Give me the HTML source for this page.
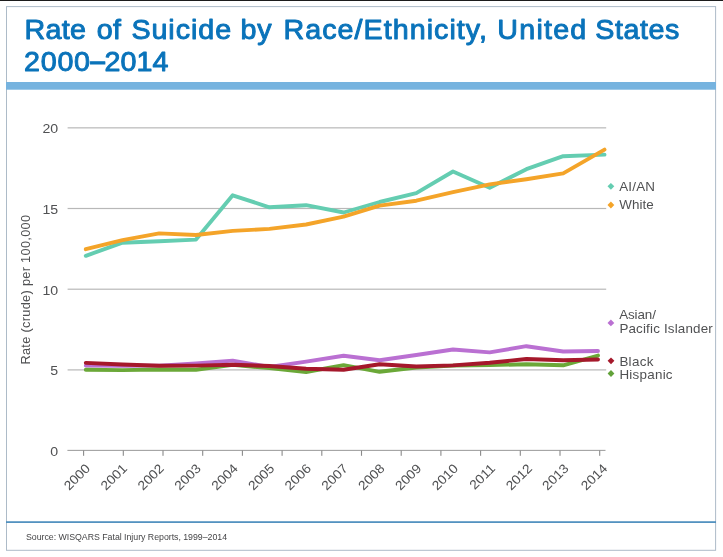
<!DOCTYPE html>
<html><head><meta charset="utf-8"><title>Rate of Suicide by Race/Ethnicity, United States 2000–2014</title>
<style>
html,body{margin:0;padding:0;background:#fff;}
svg{display:block;will-change:transform;}
text{font-family:"Liberation Sans",Arial,Helvetica,sans-serif;}
.t{font-size:28.4px;fill:#0a73ba;stroke:#0a73ba;stroke-width:0.95px;stroke-linejoin:round;}
.g{fill:#505153;}
.ln{fill:none;stroke-linejoin:round;stroke-linecap:round;}
</style></head><body>
<svg width="723" height="557" viewBox="0 0 723 557">
<rect x="0" y="0" width="723" height="557" fill="#ffffff"/>
<rect x="0" y="0" width="723" height="1" fill="#1c1c1c"/>
<rect x="6.5" y="6.6" width="709.1" height="543.7" fill="none" stroke="#adbbc8" stroke-width="1"/>
<rect x="6" y="82.0" width="710" height="7.7" fill="#76b3df"/>
<rect x="6" y="521.25" width="710" height="1.7" fill="#4b8dbd"/>

<text class="t" transform="translate(24.6,39.2) scale(1.01,1)" letter-spacing="0.28">Rate</text>
<text class="t" transform="translate(96.8,39.2) scale(1.01,1)" letter-spacing="0.28">of</text>
<text class="t" transform="translate(131.4,39.2) scale(1.01,1)" letter-spacing="0.93">Suicide</text>
<text class="t" transform="translate(240.6,39.2) scale(1.01,1)" letter-spacing="0.78">by</text>
<text class="t" transform="translate(283.4,39.2) scale(1.01,1)" letter-spacing="1.03">Race/Ethnicity,</text>
<text class="t" transform="translate(497.3,39.2) scale(1.01,1)" letter-spacing="1.21">United</text>
<text class="t" transform="translate(595.2,39.2) scale(1.01,1)" letter-spacing="0.58">States</text>
<text class="t" transform="translate(24.0,70.5) scale(1.01,1)" letter-spacing="0.75">2000</text>
<text class="t" transform="translate(90.3,70.5) scale(0.93,1.12)">–</text>
<text class="t" transform="translate(104.6,70.5) scale(1.01,1)" letter-spacing="0.05">2014</text>
<rect x="67.6" y="127.25" width="538.6" height="1.2" fill="#b8b8b8"/>
<rect x="67.6" y="207.90" width="538.6" height="1.2" fill="#b8b8b8"/>
<rect x="67.6" y="288.60" width="538.6" height="1.2" fill="#b8b8b8"/>
<rect x="67.6" y="369.30" width="538.6" height="1.2" fill="#b8b8b8"/>
<rect x="67.4" y="449.85" width="538.1" height="1.1" fill="#a2a2a2"/>
<rect x="83.05" y="450.4" width="1.1" height="5.4" fill="#8a8a8a"/>
<rect x="122.75" y="450.4" width="1.1" height="5.4" fill="#8a8a8a"/>
<rect x="162.45" y="450.4" width="1.1" height="5.4" fill="#8a8a8a"/>
<rect x="202.15" y="450.4" width="1.1" height="5.4" fill="#8a8a8a"/>
<rect x="241.85" y="450.4" width="1.1" height="5.4" fill="#8a8a8a"/>
<rect x="281.55" y="450.4" width="1.1" height="5.4" fill="#8a8a8a"/>
<rect x="321.25" y="450.4" width="1.1" height="5.4" fill="#8a8a8a"/>
<rect x="360.95" y="450.4" width="1.1" height="5.4" fill="#8a8a8a"/>
<rect x="400.65" y="450.4" width="1.1" height="5.4" fill="#8a8a8a"/>
<rect x="440.35" y="450.4" width="1.1" height="5.4" fill="#8a8a8a"/>
<rect x="480.05" y="450.4" width="1.1" height="5.4" fill="#8a8a8a"/>
<rect x="519.75" y="450.4" width="1.1" height="5.4" fill="#8a8a8a"/>
<rect x="559.45" y="450.4" width="1.1" height="5.4" fill="#8a8a8a"/>
<rect x="599.15" y="450.4" width="1.1" height="5.4" fill="#8a8a8a"/>
<text class="g" font-size="13" text-anchor="end" transform="translate(58.2,133.3) scale(1.09,1)">20</text>
<text class="g" font-size="13" text-anchor="end" transform="translate(58.2,214.0) scale(1.09,1)">15</text>
<text class="g" font-size="13" text-anchor="end" transform="translate(58.2,294.7) scale(1.09,1)">10</text>
<text class="g" font-size="13" text-anchor="end" transform="translate(58.2,375.4) scale(1.09,1)">5</text>
<text class="g" font-size="13" text-anchor="end" transform="translate(58.2,455.9) scale(1.09,1)">0</text>
<text class="g" font-size="12.8" letter-spacing="0.29" text-anchor="middle" transform="translate(29.9,289.6) rotate(-90)">Rate (crude) per 100,000</text>
<text class="g" font-size="13" text-anchor="end" transform="translate(91.0,469.2) rotate(-45) scale(1.07,1)">2000</text>
<text class="g" font-size="13" text-anchor="end" transform="translate(127.9,469.2) rotate(-45) scale(1.07,1)">2001</text>
<text class="g" font-size="13" text-anchor="end" transform="translate(164.8,469.2) rotate(-45) scale(1.07,1)">2002</text>
<text class="g" font-size="13" text-anchor="end" transform="translate(201.7,469.2) rotate(-45) scale(1.07,1)">2003</text>
<text class="g" font-size="13" text-anchor="end" transform="translate(238.6,469.2) rotate(-45) scale(1.07,1)">2004</text>
<text class="g" font-size="13" text-anchor="end" transform="translate(275.3,469.2) rotate(-45) scale(1.07,1)">2005</text>
<text class="g" font-size="13" text-anchor="end" transform="translate(311.9,469.2) rotate(-45) scale(1.07,1)">2006</text>
<text class="g" font-size="13" text-anchor="end" transform="translate(348.7,469.2) rotate(-45) scale(1.07,1)">2007</text>
<text class="g" font-size="13" text-anchor="end" transform="translate(385.4,469.2) rotate(-45) scale(1.07,1)">2008</text>
<text class="g" font-size="13" text-anchor="end" transform="translate(422.3,469.2) rotate(-45) scale(1.07,1)">2009</text>
<text class="g" font-size="13" text-anchor="end" transform="translate(459.0,469.2) rotate(-45) scale(1.07,1)">2010</text>
<text class="g" font-size="13" text-anchor="end" transform="translate(495.9,469.2) rotate(-45) scale(1.07,1)">2011</text>
<text class="g" font-size="13" text-anchor="end" transform="translate(533.0,469.2) rotate(-45) scale(1.07,1)">2012</text>
<text class="g" font-size="13" text-anchor="end" transform="translate(569.4,469.2) rotate(-45) scale(1.07,1)">2013</text>
<text class="g" font-size="13" text-anchor="end" transform="translate(608.1,469.2) rotate(-45) scale(1.07,1)">2014</text>
<polyline class="ln" stroke-width="3.9" stroke="#ba70d2" points="85.8,365.6 122.5,365.8 159.2,365.6 196.0,363.5 232.7,360.6 269.4,367.0 306.1,361.6 343.6,355.7 379.6,360.2 416.3,355.0 453.0,349.5 489.7,352.4 526.4,346.2 563.2,351.5 598.0,351.0"/>
<polyline class="ln" stroke-width="3.9" stroke="#6ba838" points="85.8,369.8 122.5,370.1 159.2,369.5 196.0,369.8 232.7,364.9 269.4,368.1 306.1,372.0 343.6,365.2 379.6,371.8 416.3,367.5 453.0,365.6 489.7,365.1 526.4,364.3 563.2,365.3 598.0,355.6"/>
<polyline class="ln" stroke-width="3.9" stroke="#a5182b" points="85.8,362.9 122.5,364.5 159.2,365.7 196.0,365.6 232.7,364.7 269.4,366.0 306.1,368.8 343.6,369.8 379.6,364.2 416.3,366.5 453.0,365.4 489.7,362.8 526.4,359.0 563.2,360.3 598.0,359.5"/>
<polyline class="ln" stroke-width="3.9" stroke="#64cdb1" points="85.8,255.8 122.5,242.7 159.2,241.3 196.0,239.6 232.7,195.3 269.4,207.3 306.1,205.2 343.6,212.5 379.6,202.0 416.3,193.1 453.0,171.5 489.7,187.8 526.4,169.2 563.2,156.2 604.5,154.6"/>
<polyline class="ln" stroke-width="3.9" stroke="#f4a429" points="85.8,249.2 122.5,240.2 159.2,233.4 196.0,235.0 232.7,230.9 269.4,228.9 306.1,224.5 343.6,216.6 379.6,205.6 416.3,200.7 453.0,192.2 489.7,184.4 526.4,179.2 563.2,173.4 604.5,149.6"/>
<path d="M610.9,182.9 L614.3,186.3 L610.9,189.70000000000002 L607.5,186.3 Z" fill="#64cdb1"/>
<path d="M610.9,201.6 L614.3,205.0 L610.9,208.4 L607.5,205.0 Z" fill="#f4a429"/>
<path d="M610.9,319.5 L614.3,322.9 L610.9,326.29999999999995 L607.5,322.9 Z" fill="#ba70d2"/>
<path d="M611.0,357.40000000000003 L614.4,360.8 L611.0,364.2 L607.6,360.8 Z" fill="#a5182b"/>
<path d="M611.0,370.1 L614.4,373.5 L611.0,376.9 L607.6,373.5 Z" fill="#62a23a"/>
<text class="g" font-size="13.4" x="619.2" y="190.6" letter-spacing="0.22">AI/AN</text>
<text class="g" font-size="13.4" x="619.2" y="208.7" letter-spacing="0.1">White</text>
<text class="g" font-size="13.4" x="619.2" y="318.8" letter-spacing="-0.1">Asian/</text>
<text class="g" font-size="13.4" x="619.4" y="332.6" letter-spacing="0.17">Pacific Islander</text>
<text class="g" font-size="13.4" x="619.4" y="366.0" letter-spacing="0.3">Black</text>
<text class="g" font-size="13.4" x="619.4" y="378.5" letter-spacing="0.26">Hispanic</text>
<text fill="#454547" font-size="8.8" letter-spacing="-0.03" x="26.0" y="540.4">Source: WISQARS Fatal Injury Reports, 1999–2014</text>
</svg></body></html>
